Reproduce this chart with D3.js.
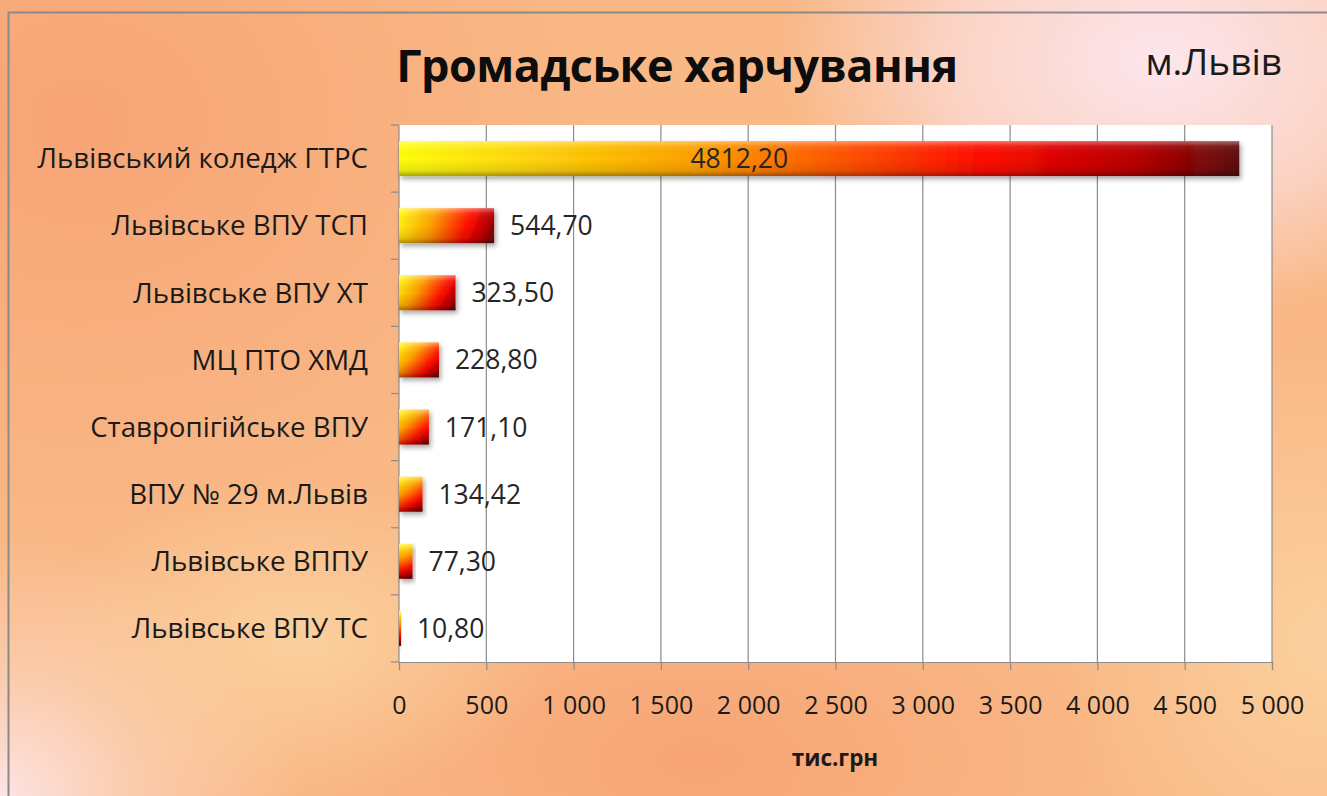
<!DOCTYPE html>
<html>
<head>
<meta charset="utf-8">
<script src="https://cdn.jsdelivr.net/npm/d3@7"></script>
<style>
  body { margin: 0; overflow: hidden; background: #fff; }
  text { font-family: "Open Sans", Lato, sans-serif; }
</style>
</head>
<body>
<div id="chart"></div>
<script>
// data
const categories = [
    "Львівський коледж ГТРС",
    "Львівське ВПУ ТСП",
    "Львівське ВПУ ХТ",
    "МЦ ПТО ХМД",
    "Ставропігійське ВПУ",
    "ВПУ № 29 м.Львів",
    "Львівське ВППУ",
    "Львівське ВПУ ТС"
];
const values = [4812.20, 544.70, 323.50, 228.80, 171.10, 134.42, 77.30, 10.80];
const tickValues = [0, 500, 1000, 1500, 2000, 2500, 3000, 3500, 4000, 4500, 5000];
const tickLabels = ["0", "500", "1 000", "1 500", "2 000", "2 500", "3 000", "3 500", "4 000", "4 500", "5 000"];

const W = 1327, H = 796;
let margin = {top: 125, right: 55, bottom: 134, left: 399},
    width = W - margin.left - margin.right,
    height = H - margin.top - margin.bottom;

let svg = d3.select("#chart").append("svg")
    .attr("width", W)
    .attr("height", H);

let defs = svg.append("defs");

// background gradients
function radial(id, stops) {
    let g = defs.append("radialGradient").attr("id", id);
    stops.forEach(s => g.append("stop")
        .attr("offset", s[0]).attr("stop-color", s[1]).attr("stop-opacity", s[2]));
}
radial("bgPink", [[0, "#fde6ee", 1], [0.55, "#fcdfe0", 0.7], [1, "#fcdfe0", 0]]);
radial("bgCorner", [[0, "#fde4e6", 1], [0.5, "#fcd6c0", 0.6], [1, "#fcd6c0", 0]]);
radial("bgSalmon", [[0, "#f7a273", 0.9], [1, "#f7a273", 0]]);
radial("bgCream", [[0, "#fbd3a0", 0.9], [1, "#fbd3a0", 0]]);

svg.append("rect").attr("width", W).attr("height", H).attr("fill", "#f9b886");
svg.append("ellipse").attr("cx", 80).attr("cy", 120).attr("rx", 520).attr("ry", 420).attr("fill", "url(#bgSalmon)");
svg.append("ellipse").attr("cx", 700).attr("cy", 760).attr("rx", 420).attr("ry", 220).attr("fill", "url(#bgSalmon)");
svg.append("ellipse").attr("cx", 1160).attr("cy", 60).attr("rx", 380).attr("ry", 260).attr("fill", "url(#bgPink)");
svg.append("ellipse").attr("cx", 0).attr("cy", 796).attr("rx", 300).attr("ry", 260).attr("fill", "url(#bgCorner)");
svg.append("ellipse").attr("cx", 1320).attr("cy", 640).attr("rx", 260).attr("ry", 300).attr("fill", "url(#bgCream)");
svg.append("ellipse").attr("cx", 300).attr("cy", 640).attr("rx", 260).attr("ry", 160).attr("fill", "url(#bgCream)");

// outer border
svg.append("rect")
    .attr("x", 8.5).attr("y", 12.5)
    .attr("width", W + 20).attr("height", H + 20)
    .attr("fill", "none")
    .attr("stroke", "#8a8a8a")
    .attr("stroke-width", 2);

let shade = defs.append("linearGradient").attr("id", "barShade")
    .attr("x1", 0).attr("y1", 0).attr("x2", 0).attr("y2", 1);
[[0, "#ffffff", 0.4], [0.15, "#ffffff", 0.08], [0.5, "#000000", 0], [0.85, "#000000", 0.1], [1, "#000000", 0.35]]
    .forEach(s => shade.append("stop").attr("offset", s[0]).attr("stop-color", s[1]).attr("stop-opacity", s[2]));

let shadow = defs.append("filter").attr("id", "shadow")
    .attr("x", "-10%").attr("y", "-20%").attr("width", "130%").attr("height", "160%");
shadow.append("feDropShadow").attr("dx", 2).attr("dy", 3).attr("stdDeviation", 2.5)
    .attr("flood-color", "#000").attr("flood-opacity", 0.35);

// title
svg.append("text")
    .attr("x", 677).attr("y", 82)
    .attr("text-anchor", "middle")
    .style("font-size", "45px")
    .style("font-weight", "bold")
    .style("letter-spacing", "-0.5px")
    .attr("fill", "#0d0d0d")
    .text("Громадське харчування");

svg.append("text")
    .attr("x", 1282).attr("y", 75)
    .attr("text-anchor", "end")
    .style("font-size", "37px")
    .attr("fill", "#1a1a1a")
    .text("м.Львів");

let g = svg.append("g")
    .attr("transform", "translate(" + margin.left + "," + margin.top + ")");

let x = d3.scaleLinear().domain([0, 5000]).range([0, width]);
let y = d3.scaleBand().domain(categories).range([0, height]).paddingInner(0.48).paddingOuter(0.24);
let yb = d3.scaleBand().domain(categories).range([0, height]);

// one gradient per bar, corner to corner, so short bars get the diagonal look
values.forEach((d, i) => {
    let top = y(categories[i]);
    let lg = defs.append("linearGradient").attr("id", "barGrad" + i)
        .attr("gradientUnits", "userSpaceOnUse")
        .attr("x1", 0).attr("y1", top)
        .attr("x2", Math.max(x(d), 2)).attr("y2", top + y.bandwidth());
    [[0, "#ffff10"], [0.35, "#ffa200"], [0.7, "#ff0a00"], [0.88, "#b80000"], [1, "#5e0c0c"]]
        .forEach(s => lg.append("stop").attr("offset", s[0]).attr("stop-color", s[1]));
});

// plot area
g.append("rect")
    .attr("width", width).attr("height", height)
    .attr("fill", "#ffffff");

// vertical gridlines
g.selectAll("line.grid")
    .data(tickValues.slice(1))
    .enter().append("line")
    .attr("class", "grid")
    .attr("x1", d => x(d)).attr("x2", d => x(d))
    .attr("y1", 0).attr("y2", height)
    .attr("stroke", "#8c8c8c").attr("stroke-width", 1.2);

// x axis
let xAxis = g.append("g")
    .attr("transform", "translate(0," + height + ")")
    .call(d3.axisBottom(x).tickValues(tickValues).tickSize(8).tickPadding(26)
        .tickFormat((d, i) => tickLabels[i]));
xAxis.select(".domain").attr("stroke", "#8c8c8c").attr("stroke-width", 1.2);
xAxis.selectAll(".tick line").attr("stroke", "#8c8c8c").attr("stroke-width", 1.2);
xAxis.selectAll("text")
    .style("font-size", "25px")
    .style("font-family", "'Open Sans', Lato, sans-serif")
    .attr("fill", "#1a1a1a");

// y axis: band boundaries as ticks
g.append("line")
    .attr("x1", 0).attr("x2", 0).attr("y1", 0).attr("y2", height)
    .attr("stroke", "#8c8c8c").attr("stroke-width", 1.2);
g.selectAll("line.ytick")
    .data(categories.map(c => yb(c)).concat([height]))
    .enter().append("line")
    .attr("class", "ytick")
    .attr("x1", -8).attr("x2", 0)
    .attr("y1", d => d).attr("y2", d => d)
    .attr("stroke", "#8c8c8c").attr("stroke-width", 1.2);

g.selectAll("text.cat")
    .data(categories)
    .enter().append("text")
    .attr("class", "cat")
    .attr("x", -31)
    .attr("y", d => yb(d) + yb.bandwidth() / 2)
    .attr("dy", "0.35em")
    .attr("text-anchor", "end")
    .style("font-size", "27.7px")
    .attr("fill", "#1a1a1a")
    .text(d => d);

// bars
let bars = g.selectAll("g.bar")
    .data(values)
    .enter().append("g")
    .attr("class", "bar");

bars.append("rect")
    .attr("x", 0)
    .attr("y", (d, i) => y(categories[i]))
    .attr("width", d => Math.max(x(d), 2))
    .attr("height", y.bandwidth())
    .attr("fill", (d, i) => "url(#barGrad" + i + ")")
    .attr("filter", "url(#shadow)");

bars.append("rect")
    .attr("x", 0)
    .attr("y", (d, i) => y(categories[i]))
    .attr("width", d => Math.max(x(d), 2))
    .attr("height", y.bandwidth())
    .attr("fill", "url(#barShade)");

// value labels
let fmt = d => d3.format(".2f")(d).replace(".", ",");
bars.append("text")
    .attr("x", (d, i) => i === 0 ? x(d) * 0.405 : x(d) + 16)
    .attr("y", (d, i) => y(categories[i]) + y.bandwidth() / 2)
    .attr("dy", "0.36em")
    .attr("text-anchor", (d, i) => i === 0 ? "middle" : "start")
    .style("font-size", "26.5px")
    .attr("fill", "#262626")
    .text(fmt);

// axis title
svg.append("text")
    .attr("x", 835).attr("y", 766)
    .attr("text-anchor", "middle")
    .style("font-size", "22.5px")
    .style("font-weight", "bold")
    .attr("fill", "#1a1a1a")
    .text("тис.грн");
</script>
</body>
</html>
